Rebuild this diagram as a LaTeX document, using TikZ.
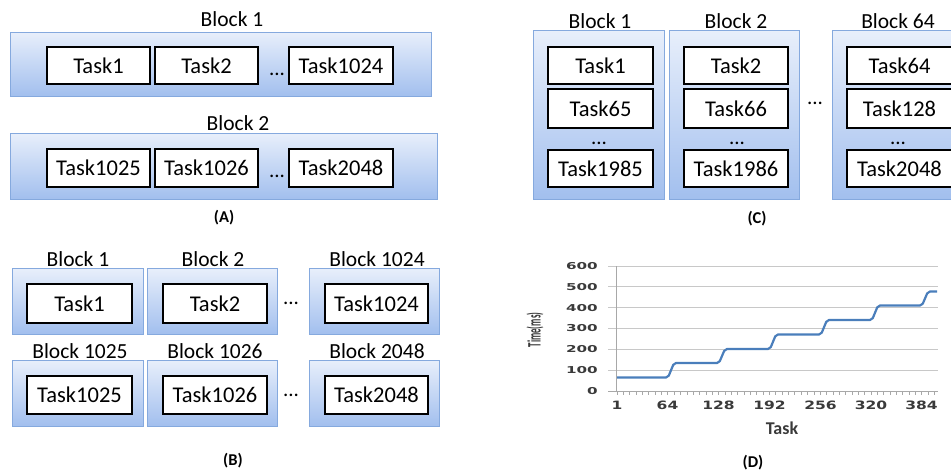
\documentclass[tikz,border=0pt]{standalone}
\usepackage{fontspec}
\setmainfont{Carlito}
\newfontfamily\numfont{DejaVu Sans}
\usepackage{graphicx}
\usetikzlibrary{shadows}
\definecolor{blktop}{HTML}{E8EFFB}
\definecolor{blkbot}{HTML}{A2BFEE}
\definecolor{blkline}{HTML}{85A9DE}
\definecolor{plotblue}{HTML}{4A7EBB}
\definecolor{gridgray}{HTML}{C8C8C8}
\definecolor{axgray}{HTML}{A8A8A8}
\definecolor{axtext}{HTML}{3A3A3A}
\newcommand\bnode[7]{\node[#1, minimum width={(#5-#3)*1pt}, minimum height={(#6-#4)*1pt}] (#2) at ({(#3+#5)/2},{(#4+#6)/2}) {#7};}
\newcommand\stretchnum[2]{\scalebox{#1}[1]{#2}}
\tikzset{
 blk/.style={rectangle, draw=blkline, line width=0.8pt, top color=blktop, bottom color=blkbot, inner sep=0pt,
   drop shadow={shadow xshift=0.6pt, shadow yshift=-1.4pt, opacity=0.3}},
 taskbox/.style={rectangle, draw=black, line width=1.3pt, fill=white, inner sep=0pt, font=\fontsize{22.5}{24}\selectfont},
 blklabel/.style={anchor=base, inner sep=0pt, font=\fontsize{21.5}{24}\selectfont},
 dotsnode/.style={inner sep=0pt, font=\fontsize{21}{24}\selectfont},
 capnode/.style={inner sep=0pt, font=\fontsize{16.5}{18}\selectfont\bfseries},
 ylab/.style={anchor=east, inner sep=0pt, text=axtext, font=\numfont\bfseries\fontsize{9.5}{10}\selectfont},
 xlab/.style={inner sep=0pt, text=axtext, font=\numfont\bfseries\fontsize{11.5}{12}\selectfont},
 gridline/.style={draw=gridgray, line width=0.8pt},
 axisline/.style={draw=axgray, line width=0.9pt},
 dataline/.style={draw=plotblue, line width=2.2pt, rounded corners=2pt, line join=round},
}
\begin{document}
\begin{tikzpicture}[x=1pt, y=-1pt]
\useasboundingbox (0,0) rectangle (951,471);

% ---------------- Panel A ----------------
\bnode{blk}{A1}{10}{32}{431}{96}{}
\node[blklabel] (A1l) at (232,27) {Block 1};
\bnode{taskbox}{A1t1}{47}{47}{150}{84}{Task1}
\bnode{taskbox}{A1t2}{155}{47}{258}{84}{Task2}
\node[dotsnode] (A1d) at (277,74.5) {...};
\bnode{taskbox}{A1t3}{289}{47}{393}{84}{Task1024}

\bnode{blk}{A2}{10}{133}{437}{199}{}
\node[blklabel] (A2l) at (238,130) {Block 2};
\bnode{taskbox}{A2t1}{47}{149}{150}{187}{Task1025}
\bnode{taskbox}{A2t2}{155}{149}{258}{187}{Task1026}
\node[dotsnode] (A2d) at (277,176) {...};
\bnode{taskbox}{A2t3}{289}{149}{393}{187}{Task2048}

\node[capnode] (capA) at (224,217.5) {(A)};

% ---------------- Panel B ----------------
\bnode{blk}{B1}{12}{268}{143}{334}{}
\bnode{blk}{B2}{147}{268}{277}{334}{}
\bnode{blk}{B3}{309}{268}{439}{334}{}
\node[blklabel] (B1l) at (78,266.5) {Block 1};
\node[blklabel] (B2l) at (213,266.5) {Block 2};
\node[blklabel] (B3l) at (377,266.5) {Block 1024};
\bnode{taskbox}{B1t}{27}{284}{132}{323}{Task1}
\bnode{taskbox}{B2t}{163}{284}{267}{323}{Task2}
\bnode{taskbox}{B3t}{325}{284}{428}{323}{Task1024}
\node[dotsnode] (Bd1) at (291,303) {...};

\bnode{blk}{B4}{12}{360}{143}{426}{}
\bnode{blk}{B5}{147}{360}{277}{426}{}
\bnode{blk}{B6}{309}{360}{439}{426}{}
\node[blklabel] (B4l) at (80,358) {Block 1025};
\node[blklabel] (B5l) at (215,358) {Block 1026};
\node[blklabel] (B6l) at (377,358) {Block 2048};
\bnode{taskbox}{B4t}{27}{376}{132}{414}{Task1025}
\bnode{taskbox}{B5t}{163}{376}{267}{414}{Task1026}
\bnode{taskbox}{B6t}{325}{376}{428}{414}{Task2048}
\node[dotsnode] (Bd2) at (291,395) {...};

\node[capnode] (capB) at (233,461) {(B)};

% ---------------- Panel C ----------------
\bnode{blk}{C1}{533}{30}{664}{199}{}
\bnode{blk}{C2}{669}{30}{799}{199}{}
\bnode{blk}{C3}{832}{30}{963}{199}{}
\node[blklabel] (C1l) at (600,28) {Block 1};
\node[blklabel] (C2l) at (736,28) {Block 2};
\node[blklabel] (C3l) at (898,28) {Block 64};
\bnode{taskbox}{C1a}{548}{47}{653}{84}{Task1}
\bnode{taskbox}{C1b}{548}{89}{653}{128}{Task65}
\node[dotsnode] (C1d) at (599,143) {...};
\bnode{taskbox}{C1c}{548}{150}{653}{187}{Task1985}
\bnode{taskbox}{C2a}{684}{47}{788}{84}{Task2}
\bnode{taskbox}{C2b}{684}{89}{788}{128}{Task66}
\node[dotsnode] (C2d) at (737,143) {...};
\bnode{taskbox}{C2c}{684}{150}{788}{187}{Task1986}
\bnode{taskbox}{C3a}{847}{47}{952}{84}{Task64}
\bnode{taskbox}{C3b}{847}{89}{952}{128}{Task128}
\node[dotsnode] (C3d) at (898,143) {...};
\bnode{taskbox}{C3c}{847}{150}{952}{187}{Task2048}
\node[dotsnode] (Cd) at (815,103) {...};

\node[capnode] (capC) at (757,219) {(C)};

% ---------------- Panel D ----------------
\foreach \v in {100,200,...,600} {
  \draw[gridline] (608,{391-\v*0.20833}) -- (938,{391-\v*0.20833});
}
\draw[axisline] (616,266) -- (616,391);
\draw[axisline] (608,391) -- (938,391);
\foreach \i in {0,...,50} {
  \draw[axisline, line width=0.7pt] ({617+\i*6.35},391) -- ({617+\i*6.35},395);
}
\foreach \v in {0,100,...,600} {
  \node[ylab] at (598,{391-\v*0.20833}) {\stretchnum{1.6}{\v}};
}
\foreach \t/\xx in {1/617,64/667.5,128/718.5,192/769.5,256/820.5,320/871,384/921.5} {
  \node[xlab] at (\xx,405.5) {\stretchnum{1.35}{\t}};
}
\draw[dataline] (617,377.5) -- (668,377.5) -- (674,363) -- (719,363) -- (725,349) -- (770,349)
  -- (776,334.5) -- (821,334.5) -- (827,320) -- (872,320) -- (878,305.5) -- (922,305.5)
  -- (928,291.5) -- (937,291.5);
\node[rotate=90, inner sep=0pt, text=axtext, font=\fontsize{19}{20}\selectfont\bfseries] (ytitle) at (535,330) {\scalebox{0.47}[1]{Time(ms)}};
\node[inner sep=0pt, text=axtext, font=\fontsize{18}{20}\selectfont\bfseries] (xtitle) at (782,428) {Task};

\node[capnode] (capD) at (753,463) {(D)};
\end{tikzpicture}
\end{document}
